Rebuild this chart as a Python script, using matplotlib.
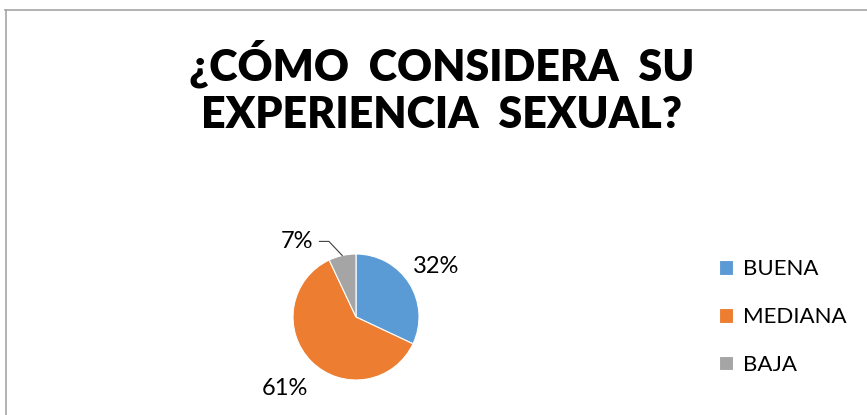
import numpy as np
import matplotlib.pyplot as plt
from matplotlib.lines import Line2D

categorias = ['BUENA', 'MEDIANA', 'BAJA']
porcentajes = [32, 61, 7]
colores = ['#5B9BD5', '#ED7D31', '#A5A5A5']
titulo = ['¿CÓMO  CONSIDERA  SU', 'EXPERIENCIA  SEXUAL?']

plt.rcParams['font.family'] = ['Lato', 'DejaVu Sans']

W, H = 867, 415
fig = plt.figure(figsize=(W / 100, H / 100), dpi=100)

# marco del gráfico (solo se ven el borde superior e izquierdo)
fig.add_artist(Line2D([4.5 / W, 1], [1 - 10.5 / H, 1 - 10.5 / H], color='#A6A6A6', lw=1.2))
fig.add_artist(Line2D([5.5 / W, 5.5 / W], [0, 1 - 10.5 / H], color='#A6A6A6', lw=1.2))

# titulo en dos lineas
fig.text(442 / W, 1 - 80 / H, titulo[0], ha='center', va='baseline',
         fontsize=31, fontweight='heavy')
fig.text(442 / W, 1 - 128 / H, titulo[1], ha='center', va='baseline',
         fontsize=31, fontweight='heavy')

# ejes cuadrados centrados en el pastel
cx, cy, r = 356, 317, 63
lado = 300
ax = fig.add_axes([(cx - lado / 2) / W, (H - cy - lado / 2) / H, lado / W, lado / H])

cunas, _ = ax.pie(porcentajes, colors=colores, startangle=90, counterclock=False,
                  radius=1, wedgeprops=dict(edgecolor='white', linewidth=0.8))
lim = lado / 2 / r
ax.set_xlim(-lim, lim)
ax.set_ylim(-lim, lim)
ax.set_aspect('equal')
ax.axis('off')

# etiquetas de porcentaje
dist = [1.51, 1.6, 1.5]
for i, c in enumerate(cunas):
    ang = np.deg2rad((c.theta1 + c.theta2) / 2)
    if categorias[i] == 'BAJA':
        # etiqueta desplazada con linea guia
        lx, ly = -0.93, 1.2
        px, py = np.cos(ang), np.sin(ang)
        ax.plot([lx + 0.35, lx + 0.5, px], [ly, ly, py], color='#404040', lw=0.8)
        ax.text(lx, ly, f'{porcentajes[i]}%', ha='center', va='center', fontsize=17)
    else:
        ax.text(dist[i] * np.cos(ang), dist[i] * np.sin(ang), f'{porcentajes[i]}%',
                ha='center', va='center', fontsize=17)

fig.legend(cunas, categorias, loc='center left', bbox_to_anchor=(719 / W, (H - 317) / H),
           frameon=False, fontsize=16, handlelength=0.65, handleheight=0.65,
           handletextpad=0.45, labelspacing=1.25, borderaxespad=0, borderpad=0)

fig.savefig('out.png', dpi=100)
